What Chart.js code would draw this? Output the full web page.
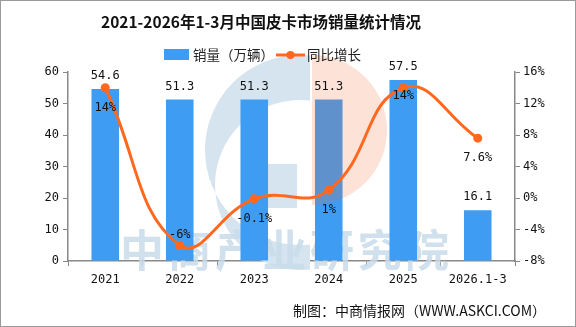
<!DOCTYPE html>
<html>
<head>
<meta charset="utf-8">
<script src="https://cdn.jsdelivr.net/npm/chart.js@4/dist/chart.umd.min.js"></script>
<style>
html,body{margin:0;padding:0;background:#fff;}
canvas{display:block;}
</style>
</head>
<body>
<canvas id="c" width="576" height="327"></canvas>
<script>
const categories = ['2021', '2022', '2023', '2024', '2025', '2026.1-3'];
const salesValues = [54.6, 51.3, 51.3, 51.3, 57.5, 16.1];
const growthValues = [14, -6, -0.1, 1, 14, 7.6];
const growthLabels = ['14%', '-6%', '-0.1%', '1%', '14%', '7.6%'];
const leftTicks = [0, 10, 20, 30, 40, 50, 60];
const rightTicks = [-8, -4, 0, 4, 8, 12, 16];

const titleText = '2021-2026年1-3月中国皮卡市场销量统计情况';
const sourceText = '制图：中商情报网（WWW.ASKCI.COM）';
const barName = '销量（万辆）';
const lineName = '同比增长';

const BLUE = 'rgb(62,157,243)';
const ORANGE = 'rgb(255,104,30)';
const MONO = '"DejaVu Sans Mono", monospace';
const CJK = '"Noto Sans CJK SC", "Noto Sans", sans-serif';

const growthLabelOffsets = [20, -10, 20, 20, 8, 20];

const decor = {
  id: 'decor',
  beforeDatasetsDraw(chart) {
    const ctx = chart.ctx;
    ctx.save();
    // blue "G" crescent
    ctx.fillStyle = 'rgb(213,228,238)';
    ctx.beginPath();
    ctx.rect(0, 0, 310, 327);
    ctx.clip();
    ctx.beginPath();
    ctx.arc(300, 150, 95, 0, Math.PI * 2);
    ctx.arc(300, 185, 85, 0, Math.PI * 2, true);
    ctx.fill('evenodd');
    ctx.restore();
    ctx.save();
    ctx.fillStyle = 'rgb(213,228,238)';
    ctx.fillRect(268, 164, 29, 44);
    // watermark text
    ctx.fillStyle = 'rgba(200,220,234,0.85)';
    ctx.font = 'bold 44px ' + CJK;
    ctx.textAlign = 'left';
    ctx.textBaseline = 'middle';
    const wm = '中商产业研究院';
    for (let i = 0; i < wm.length; i++) {
      ctx.fillText(wm[i], 120 + i * 47.5, 250);
    }
    ctx.restore();
  },
  afterDatasetDraw(chart, args) {
    if (args.index !== 0) return;
    const ctx = chart.ctx;
    ctx.save();
    ctx.fillStyle = 'rgba(240,100,40,0.19)';
    ctx.beginPath();
    ctx.moveTo(312, 55);
    ctx.arc(312, 130, 75, -Math.PI / 2, Math.PI / 2);
    ctx.closePath();
    ctx.fill();
    ctx.restore();
  },
  afterDraw(chart) {
    const ctx = chart.ctx;
    ctx.save();
    // border
    ctx.strokeStyle = '#9a9a9a';
    ctx.lineWidth = 1;
    ctx.strokeRect(0.5, 0.5, 575, 326);
    // title
    ctx.fillStyle = '#111';
    ctx.font = 'bold 15.5px ' + CJK;
    ctx.textAlign = 'center';
    ctx.textBaseline = 'middle';
    ctx.fillText(titleText, 261, 22);
    // legend
    ctx.fillStyle = BLUE;
    ctx.fillRect(164, 49, 25, 11);
    ctx.fillStyle = '#222';
    ctx.font = '13.5px ' + CJK;
    ctx.textAlign = 'left';
    ctx.fillText(barName, 193, 55);
    ctx.strokeStyle = ORANGE;
    ctx.lineWidth = 3;
    ctx.beginPath();
    ctx.moveTo(276, 55);
    ctx.lineTo(305, 55);
    ctx.stroke();
    ctx.fillStyle = ORANGE;
    ctx.beginPath();
    ctx.arc(290.5, 55, 4, 0, Math.PI * 2);
    ctx.fill();
    ctx.fillStyle = '#222';
    ctx.fillText(lineName, 307, 55);
    // bar value labels
    const barMeta = chart.getDatasetMeta(0);
    ctx.font = '12px ' + MONO;
    ctx.textAlign = 'center';
    ctx.fillStyle = '#111';
    barMeta.data.forEach((el, i) => {
      ctx.fillText(salesValues[i].toFixed(1), el.x, el.y - 13);
    });
    // growth labels
    const lineMeta = chart.getDatasetMeta(1);
    lineMeta.data.forEach((el, i) => {
      ctx.fillText(growthLabels[i], el.x, el.y + growthLabelOffsets[i]);
    });
    // source
    ctx.font = '14px ' + CJK;
    ctx.textAlign = 'right';
    ctx.fillStyle = '#111';
    ctx.fillText(sourceText, 546, 311);
    ctx.restore();
  }
};

new Chart(document.getElementById('c'), {
  data: {
    labels: categories,
    datasets: [
      {
        type: 'bar',
        label: barName,
        data: salesValues,
        backgroundColor: BLUE,
        yAxisID: 'y',
        order: 2,
        categoryPercentage: 1,
        barPercentage: 0.37
      },
      {
        type: 'line',
        label: lineName,
        data: growthValues,
        borderColor: ORANGE,
        backgroundColor: ORANGE,
        borderWidth: 3,
        pointRadius: 4.5,
        pointBackgroundColor: ORANGE,
        pointBorderWidth: 0,
        tension: 0.45,
        yAxisID: 'y1',
        order: 1
      }
    ]
  },
  plugins: [decor],
  options: {
    responsive: false,
    animation: false,
    devicePixelRatio: 1,
    layout: { padding: { left: 0, right: 0, top: 72, bottom: 36 } },
    plugins: {
      legend: { display: false },
      title: { display: false },
      tooltip: { enabled: false }
    },
    scales: {
      x: {
        grid: { display: true, drawOnChartArea: false, offset: true, tickLength: 5, color: '#888' },
        border: { display: true, color: '#888', width: 1.5 },
        ticks: { font: { family: MONO, size: 12 }, color: '#111', padding: 7, maxRotation: 0 },
        afterFit(s) { s.height = 30; }
      },
      y: {
        position: 'left',
        min: 0, max: 60,
        afterBuildTicks(s) { s.ticks = leftTicks.map(v => ({ value: v })); },
        grid: { display: true, drawOnChartArea: false, tickLength: 5, color: '#888' },
        border: { display: true, color: '#888', width: 1.5 },
        ticks: { font: { family: MONO, size: 12 }, color: '#111', padding: 4 },
        afterFit(s) { s.width = 68; }
      },
      y1: {
        position: 'right',
        min: -8, max: 16,
        afterBuildTicks(s) { s.ticks = rightTicks.map(v => ({ value: v })); },
        grid: { display: true, drawOnChartArea: false, tickLength: 5, color: '#888' },
        border: { display: true, color: '#888', width: 1.5 },
        ticks: { font: { family: MONO, size: 12 }, color: '#111', padding: 3, callback: v => v + '%' },
        afterFit(s) { s.width = 61; }
      }
    }
  }
});
</script>
</body>
</html>
